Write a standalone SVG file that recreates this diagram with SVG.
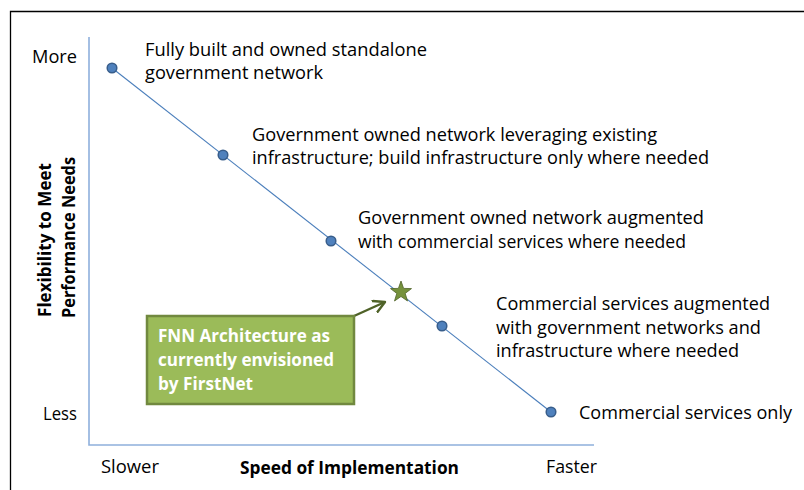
<svg xmlns="http://www.w3.org/2000/svg" width="804" height="490" viewBox="0 0 804 490">
  <defs>
    <style>
      text { font-family: "Open Sans", "Liberation Sans", sans-serif; font-size: 18px; fill: #000; }
      .b { font-weight: bold; }
      .w { fill: #fff; font-weight: bold; }
      .dot { fill: #4f81bd; stroke: #385d8a; stroke-width: 1.5; }
      .axis { stroke: #8eb0dc; stroke-width: 1.6; fill: none; }
      .trend { stroke: #4a7ebb; stroke-width: 1.1; fill: none; }
    </style>
    <marker id="openArrow" viewBox="0 0 14 14" refX="12" refY="7" markerWidth="14" markerHeight="14" markerUnits="userSpaceOnUse" orient="auto">
      <path d="M1,1 L12,7 L1,13" fill="none" stroke="#4f6228" stroke-width="2.4" stroke-linecap="round" stroke-linejoin="round"/>
    </marker>
  </defs>

  <rect width="804" height="490" fill="#fff"/>
  <!-- outer frame, open to the right and bottom -->
  <path d="M10.5,490 L10.5,11.5 L804,11.5" fill="none" stroke="#000" stroke-width="1.3"/>

  <!-- axes -->
  <g id="axes">
    <path class="axis" d="M89,37 L89,445 L594,445"/>
    <text x="32" y="63" textLength="45" lengthAdjust="spacingAndGlyphs">More</text>
    <text x="43" y="420" textLength="34" lengthAdjust="spacingAndGlyphs">Less</text>
    <text x="101" y="473" textLength="58" lengthAdjust="spacingAndGlyphs">Slower</text>
    <text x="546" y="473" textLength="51" lengthAdjust="spacingAndGlyphs">Faster</text>
    <text class="b" x="240" y="474" textLength="219" lengthAdjust="spacingAndGlyphs">Speed of Implementation</text>
    <text class="b" transform="translate(51,317) rotate(-90)" textLength="154" lengthAdjust="spacingAndGlyphs">Flexibility to Meet</text>
    <text class="b" transform="translate(75,318) rotate(-90)" textLength="161" lengthAdjust="spacingAndGlyphs">Performance Needs</text>
  </g>

  <!-- connectors -->
  <g id="connectors">
    <path class="trend" d="M112,68 L551,412"/>
    <path d="M354,316 L385,302" fill="none" stroke="#4f6228" stroke-width="2.4" marker-end="url(#openArrow)"/>
  </g>

  <g id="option-standalone">
    <circle class="dot" cx="112" cy="68" r="4.8"/>
    <text x="145" y="56" textLength="282" lengthAdjust="spacingAndGlyphs">Fully built and owned standalone</text>
    <text x="145" y="79" textLength="178" lengthAdjust="spacingAndGlyphs">government network</text>
  </g>

  <g id="option-leverage">
    <circle class="dot" cx="223" cy="155" r="4.8"/>
    <text x="252" y="141" textLength="405" lengthAdjust="spacingAndGlyphs">Government owned network leveraging existing</text>
    <text x="252" y="164" textLength="457" lengthAdjust="spacingAndGlyphs">infrastructure; build infrastructure only where needed</text>
  </g>

  <g id="option-augmented">
    <circle class="dot" cx="331" cy="241" r="4.8"/>
    <text x="358" y="224" textLength="346" lengthAdjust="spacingAndGlyphs">Government owned network augmented</text>
    <text x="358" y="248" textLength="328" lengthAdjust="spacingAndGlyphs">with commercial services where needed</text>
  </g>

  <g id="option-commercial-augmented">
    <circle class="dot" cx="442" cy="326" r="4.8"/>
    <text x="496" y="310" textLength="274" lengthAdjust="spacingAndGlyphs">Commercial services augmented</text>
    <text x="496" y="334" textLength="265" lengthAdjust="spacingAndGlyphs">with government networks and</text>
    <text x="496" y="357" textLength="243" lengthAdjust="spacingAndGlyphs">infrastructure where needed</text>
  </g>

  <g id="option-commercial-only">
    <circle class="dot" cx="551" cy="412" r="4.8"/>
    <text x="579" y="419" textLength="213" lengthAdjust="spacingAndGlyphs">Commercial services only</text>
  </g>

  <g id="fnn-star">
    <polygon points="401,281 403.6,288.4 411.5,288.6 405.2,293.4 407.5,301 401,296.5 394.5,301 396.8,293.4 390.5,288.6 398.4,288.4" fill="#76923c" stroke="#4f6228" stroke-width="0.8"/>
  </g>

  <g id="fnn-box">
    <rect x="147" y="316" width="207" height="88" fill="#9bbb59" stroke="#71893f" stroke-width="2.5"/>
    <text class="w" x="158" y="342" textLength="172" lengthAdjust="spacingAndGlyphs">FNN Architecture as</text>
    <text class="w" x="158" y="366" textLength="176" lengthAdjust="spacingAndGlyphs">currently envisioned</text>
    <text class="w" x="158" y="390" textLength="95" lengthAdjust="spacingAndGlyphs">by FirstNet</text>
  </g>
</svg>
